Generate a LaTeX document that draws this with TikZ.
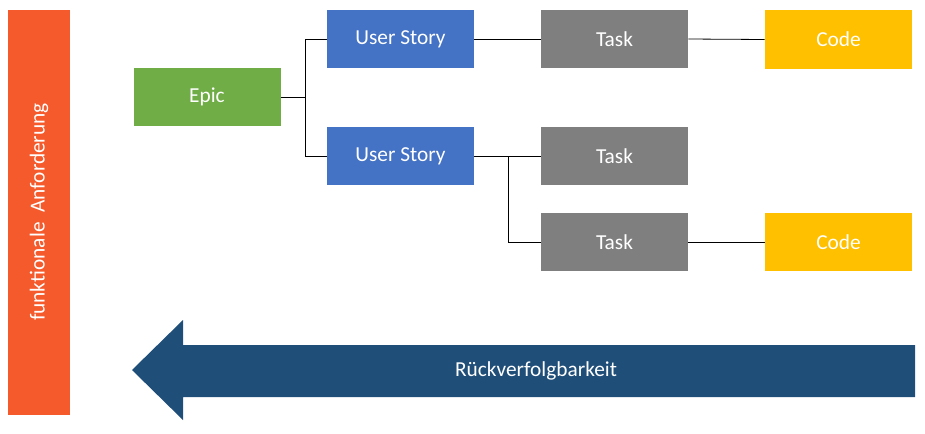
\documentclass[tikz,border=0pt]{standalone}
\usepackage{fontspec}
\setmainfont{Carlito}
\usetikzlibrary{positioning}
\definecolor{reqorange}{HTML}{F55A2C}
\definecolor{epicgreen}{HTML}{70AD47}
\definecolor{storyblue}{HTML}{4472C4}
\definecolor{taskgray}{HTML}{7F7F7F}
\definecolor{codeyellow}{HTML}{FFC000}
\definecolor{tracedark}{HTML}{1F4E79}
\tikzset{
  box/.style={minimum width=110.25pt, minimum height=43pt, inner sep=0pt,
    text=white, font=\fontsize{16}{19}\selectfont},
  link/.style={draw=black, line width=0.6pt}
}
\begin{document}
\begin{tikzpicture}[x=0.75pt,y=-0.75pt]
	\useasboundingbox (0,0) rectangle (925,433);
	
	% REQUIREMENT BAR
	\fill[reqorange] (8,10) rectangle (70,415);
	\node[rotate=90, text=white, font=\fontsize{16}{19}\selectfont] (req) at (39,212) {funktionale\ \ Anforderung};
	
	% BOXES
	\node[box, fill=epicgreen] (epic) at (207,97) {Epic};
	\node[box, fill=storyblue] (story1) at (400.5,39) {User Story};
	\node[box, fill=storyblue] (story2) at (400.5,156) {User Story};
	\node[box, fill=taskgray] (task1) at (614.5,39) {Task};
	\node[box, fill=taskgray] (task2) at (614.5,156) {Task};
	\node[box, fill=taskgray] (task3) at (614.5,242) {Task};
	\node[box, fill=codeyellow, minimum height=44pt] (code1) at (838.5,39.5) {Code};
	\node[box, fill=codeyellow] (code2) at (838.5,242) {Code};
	
	% CONNECTORS
	\coordinate (fork1) at (305,97);
	\coordinate (fork2) at (508,156);
	\draw[link] (epic.east) -- (fork1) |- (story1.west);
	\draw[link] (fork1) |- (story2.west);
	\draw[link] (story1.east) -- (task1.west);
	\draw[link] (task1.east) -- (code1.west);
	\draw[link] (story2.east) -- (task2.west);
	\draw[link] (fork2) |- (task3.west);
	\draw[link] (task3.east) -- (code2.west);
	
	% TRACEABILITY ARROW
	\fill[tracedark] (915,345) -- (183,345) -- (183,320) -- (132,370) -- (183,420) -- (183,397) -- (915,397) -- cycle;
	\node[text=white, font=\fontsize{16}{19}\selectfont] (trace) at (536,371) {Rückverfolgbarkeit};
\end{tikzpicture}
\end{document}
